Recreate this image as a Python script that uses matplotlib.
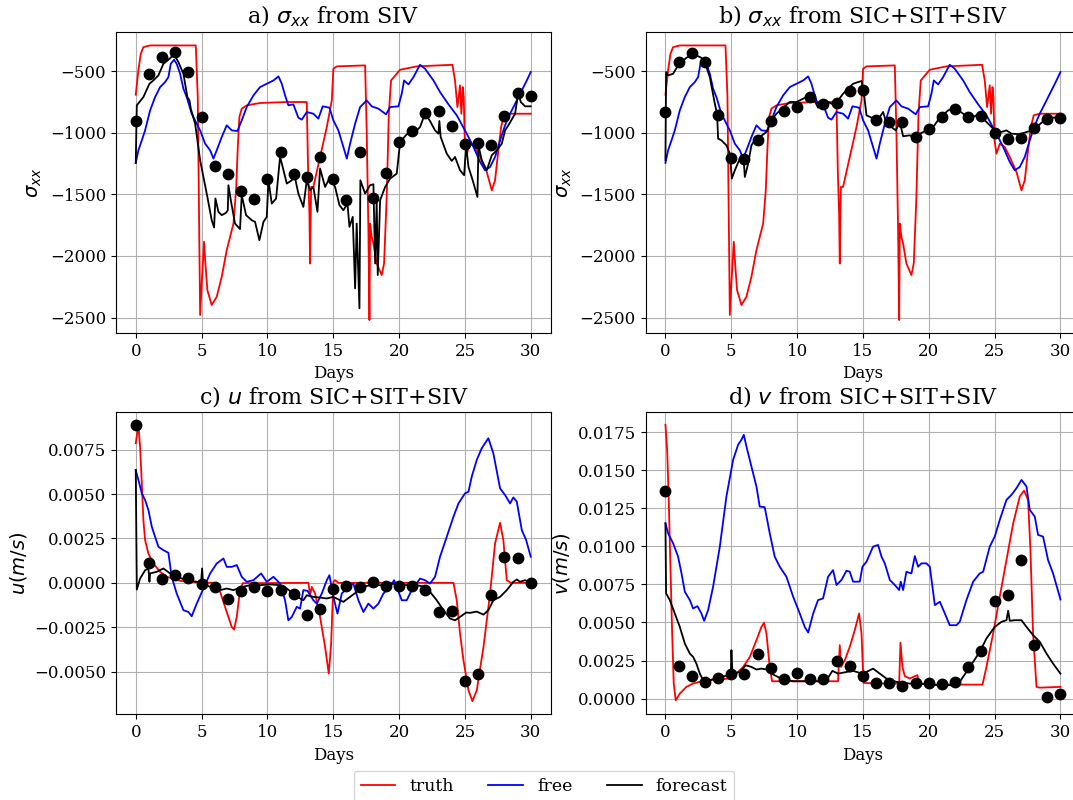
import numpy as np
import matplotlib
matplotlib.use("Agg")
import matplotlib.pyplot as plt
from matplotlib.lines import Line2D

plt.rcParams['font.family'] = ['DejaVu Serif']
plt.rcParams['font.size'] = 12

# ---------------- sigma_xx truth (shared by a and b) ----------------
truth_sig_t = [0, 0.2, 0.38, 0.58, 1.09, 4.56, 4.71, 4.89, 5.01, 5.19, 5.29, 5.44, 5.77, 6.15, 6.53, 6.91,
               7.42, 7.62, 7.75, 7.87, 8.05, 8.43, 9.44, 11.47, 12.99, 13.09, 13.19, 13.24, 13.32, 13.49,
               14.0, 14.51, 14.89, 15.01, 15.27, 17.42, 17.54, 17.67, 17.75, 17.8, 17.92, 18.05, 18.3,
               18.68, 18.86, 19.06, 19.22, 19.39, 20.08, 21.34, 24.05, 24.25, 24.43, 24.53, 24.63, 24.73,
               24.84, 24.91, 24.99, 25.14, 25.39, 25.77, 26.15, 26.66, 27.04, 27.29, 27.54, 27.75, 27.97,
               28.42, 30]
truth_sig_v = [-692, -495, -360, -306, -292, -292, -711, -2479, -2223, -1885, -2061, -2277, -2398, -2331,
               -2169, -1953, -1737, -1467, -1116, -873, -805, -778, -759, -751, -751, -1305, -1656, -2061,
               -1440, -1440, -1197, -954, -738, -481, -462, -454, -981, -1791, -2520, -1737, -1845, -1899,
               -2061, -2155, -2061, -1521, -846, -576, -489, -462, -449, -576, -792, -711, -616, -846,
               -630, -711, -1062, -1170, -1089, -1116, -1197, -1318, -1467, -1386, -1143, -954, -859,
               -846, -846]

free_sig_t = [0, 0.2, 0.46, 0.71, 1.09, 1.47, 1.85, 2.23, 2.48, 2.66, 2.91, 3.11, 3.37, 3.62, 3.87, 4.25,
              4.63, 4.89, 5.27, 5.65, 5.9, 6.15, 6.53, 6.91, 7.29, 7.72, 8.05, 8.43, 8.94, 9.44, 9.95,
              10.46, 10.84, 11.09, 11.34, 11.59, 11.97, 12.35, 12.61, 12.99, 13.49, 13.87, 14.2, 14.71,
              15.01, 15.39, 15.77, 16.03, 16.28, 16.66, 17.04, 17.54, 17.92, 18.43, 19.01, 19.32, 19.95,
              20.2, 20.38, 20.71, 21.09, 21.59, 21.97, 22.61, 23.11, 23.75, 24.38, 25.14, 25.65, 26.15,
              26.53, 26.91, 27.29, 27.67, 28.05, 28.43, 28.94, 29.32, 29.7, 30]
free_sig_v = [-1245, -1143, -1062, -981, -819, -711, -630, -589, -549, -441, -408, -441, -522, -643, -711,
              -846, -927, -981, -1089, -1143, -1210, -1143, -1035, -940, -981, -986, -900, -792, -697,
              -630, -603, -576, -543, -603, -697, -778, -770, -878, -894, -832, -846, -886, -786, -797,
              -900, -981, -1116, -1210, -1089, -927, -792, -738, -786, -805, -851, -792, -786, -684,
              -576, -608, -549, -449, -481, -576, -670, -770, -859, -1008, -1116, -1237, -1305, -1278,
              -1197, -1062, -940, -846, -738, -657, -576, -508]

# forecast, panel a (SIV)
fc_a_t = [0, 0.08, 0.58, 1.04, 1.34, 1.72, 2.1, 2.48, 2.91, 3.24, 3.62, 3.92, 4.08, 4.18, 4.51, 4.89, 5.14,
          5.44, 5.77, 5.95, 6.05, 6.28, 6.53, 6.86, 6.99, 7.04, 7.22, 7.54, 7.92, 8.05, 8.38, 8.81, 9.06,
          9.39, 9.7, 9.95, 10.08, 10.33, 10.66, 10.96, 11.16, 11.47, 11.85, 12.03, 12.35, 12.73, 12.99,
          13.24, 13.49, 13.8, 14.0, 14.38, 14.76, 15.14, 15.47, 15.77, 16.08, 16.23, 16.48, 16.66, 16.78,
          16.99, 17.06, 17.42, 17.8, 18.05, 18.18, 18.3, 18.38, 18.56, 18.94, 19.32, 19.82, 20.08, 20.58,
          21.09, 21.59, 21.97, 22.35, 22.73, 22.99, 23.06, 23.16, 23.62, 24.0, 24.25, 24.63, 24.94, 25.09,
          25.27, 25.59, 25.95, 26.03, 26.28, 26.66, 27.04, 27.42, 27.8, 28.05, 28.3, 28.81, 29.06, 29.24,
          29.57, 30]
fc_a_v = [-1245, -778, -711, -603, -576, -535, -441, -408, -365, -427, -522, -711, -738, -805, -927, -1224,
          -1359, -1521, -1710, -1769, -1534, -1642, -1669, -1650, -1629, -1426, -1548, -1737, -1782, -1507,
          -1669, -1710, -1723, -1872, -1723, -1683, -1386, -1575, -1534, -1197, -1278, -1413, -1386, -1332,
          -1494, -1602, -1386, -1467, -1440, -1642, -1291, -1440, -1359, -1440, -1588, -1629, -1575, -1764,
          -1683, -2263, -1737, -2425, -1386, -1494, -1426, -1418, -2061, -1548, -2155, -1548, -1440, -1372,
          -1332, -1075, -1013, -1008, -954, -846, -905, -981, -1008, -905, -1035, -1170, -1229, -1197,
          -1305, -1345, -1102, -1278, -1386, -1521, -1102, -1224, -1305, -1183, -1143, -1089, -981, -940,
          -846, -670, -751, -786, -786]

# forecast, panel b (SIC+SIT+SIV)
fc_b_t = [0, 0.05, 0.2, 0.58, 0.96, 1.59, 1.97, 2.35, 2.73, 2.99, 3.37, 3.75, 3.92, 4.0, 4.25, 4.63, 4.89,
          5.04, 5.27, 5.65, 5.95, 6.03, 6.28, 6.53, 6.78, 7.16, 7.67, 8.05, 8.43, 8.94, 9.44, 9.95, 10.46,
          10.96, 11.34, 11.59, 11.97, 12.35, 12.73, 13.11, 13.49, 13.87, 14.25, 14.63, 14.89, 15.06, 15.27,
          15.65, 16.03, 16.53, 16.78, 17.16, 17.49, 17.8, 18.05, 18.56, 18.94, 19.32, 19.82, 20.33, 20.84,
          21.47, 21.97, 22.61, 23.11, 23.62, 24.13, 24.63, 25.01, 25.52, 25.9, 26.28, 26.91, 27.42, 27.92,
          28.43, 28.94, 29.44, 30]
fc_b_v = [-1224, -508, -535, -522, -454, -392, -373, -373, -392, -427, -549, -765, -846, -1048, -1062, -1102,
          -1170, -1372, -1305, -1210, -1237, -1359, -1251, -1102, -1062, -1035, -994, -900, -846, -797, -751,
          -751, -724, -697, -743, -797, -778, -751, -770, -738, -684, -643, -603, -589, -581, -670, -859,
          -878, -913, -832, -921, -954, -981, -913, -1029, -1021, -1048, -1008, -981, -954, -878, -819,
          -797, -846, -886, -859, -886, -940, -981, -994, -981, -1008, -1013, -994, -981, -932, -883, -878,
          -873]

obs_days = list(range(31))
obs_a = [-905, -524, -387, -346, -511, -873, -1270, -1332, -1472, -1537, -1372, -1159, -1332, -1359, -1197,
         -1372, -1548, -1159, -1529, -1323, -1075, -989, -840, -824, -946, -1094, -1081, -1102, -867, -678,
         -705]
obs_b = [-832, -430, -351, -430, -859, -1202, -1210, -1062, -905, -827, -792, -711, -770, -759, -665, -651,
         -894, -913, -913, -1035, -973, -873, -808, -873, -865, -1000, -1048, -1040, -962, -886, -878]

# ---------------- u ----------------
truth_u_t = [0, 0.13, 0.23, 0.33, 0.46, 0.58, 0.71, 0.96, 1.34, 1.85, 2.35, 3.37, 4.89, 6.03, 6.41, 6.91,
             7.29, 7.47, 7.67, 7.92, 8.13, 13.11, 13.24, 13.37, 13.62, 14.0, 14.38, 14.66, 14.84, 15.01,
             15.14, 15.39, 24.13, 24.38, 24.63, 24.89, 25.27, 25.57, 25.9, 26.41, 26.91, 27.29, 27.67,
             27.92, 28.18, 28.48, 30]
truth_u_v = [0.00786, 0.00852, 0.00857, 0.00767, 0.0056, 0.00353, 0.00241, 0.00165, 0.00109, 0.00062,
             0.00034, 0.00011, 0.00002, 0.0, -0.00051, -0.00164, -0.00248, -0.00263, -0.00192, -0.00041,
             -0.00002, 0.0, -0.0007, -0.00023, -0.0006, -0.00192, -0.00361, -0.00511, -0.00342, 0.00006,
             0.00015, 0.0, 0.0, -0.00098, -0.00286, -0.00436, -0.00605, -0.00666, -0.00605, -0.00361,
             -0.0006, 0.00222, 0.00338, 0.00241, 0.00015, 0.0, 0.0]

free_u_t = [0, 0.2, 0.46, 0.71, 0.96, 1.22, 1.47, 1.72, 2.1, 2.48, 2.73, 3.11, 3.62, 4.0, 4.25, 4.63, 5.14,
            5.65, 6.15, 6.66, 6.91, 7.29, 7.67, 8.05, 8.43, 8.94, 9.52, 9.95, 10.46, 10.96, 11.34, 11.59,
            11.85, 12.23, 12.48, 12.73, 13.04, 13.49, 13.75, 14.13, 14.51, 14.71, 15.01, 15.32, 15.65, 16.15,
            16.53, 16.91, 17.29, 17.67, 18.05, 18.43, 18.81, 19.32, 19.62, 19.82, 20.2, 20.58, 20.96, 21.59,
            21.97, 22.35, 22.73, 23.11, 23.62, 24.13, 24.51, 25.01, 25.27, 25.52, 25.9, 26.28, 26.78, 27.16,
            27.67, 28.05, 28.43, 28.68, 28.94, 29.32, 29.65, 30]
free_u_v = [0.00635, 0.00579, 0.00504, 0.00466, 0.0041, 0.00316, 0.00259, 0.00203, 0.00184, 0.00169,
            0.00034, -0.0006, -0.00154, -0.00164, -0.00188, -0.00117, -0.00032, 0.00053, 0.00109, 0.00137,
            0.0009, 0.0009, 0.001, 0.00034, 0.00006, 0.00015, 0.00053, 0.00006, 0.00034, -0.00004, -0.00098,
            -0.00211, -0.00192, -0.00135, -0.00145, -0.00041, -0.00045, -0.00098, -0.00117, -0.0006, 0.00015,
            0.00043, -0.00079, -0.00173, -0.0006, -0.00023, -0.00004, -0.00098, -0.00164, -0.00117, -0.00145,
            -0.00117, -0.0006, -0.00023, 0.00015, -0.00023, -0.00098, -0.00098, -0.00041, 0.00024, 0.00015,
            -0.00004, 0.00034, 0.00147, 0.00259, 0.00372, 0.00447, 0.00504, 0.00513, 0.00598, 0.00692,
            0.00758, 0.00814, 0.00729, 0.00532, 0.00494, 0.00447, 0.00481, 0.00457, 0.00297, 0.00241, 0.00147]

fc_u_t = [0, 0.08, 0.33, 0.71, 0.96, 1.04, 1.09, 1.59, 2.1, 2.61, 3.11, 3.87, 4.63, 4.96, 5.04, 5.11, 5.65,
          6.41, 6.91, 7.42, 7.92, 8.68, 9.44, 10.2, 10.96, 11.47, 11.97, 12.48, 12.73, 12.99, 13.49, 14.0,
          14.51, 15.01, 15.52, 15.77, 16.28, 16.78, 17.29, 17.8, 18.81, 19.32, 19.82, 20.58, 21.34, 21.97,
          22.35, 22.86, 23.37, 23.87, 24.25, 24.63, 25.09, 25.39, 25.9, 26.41, 26.78, 27.16, 27.67, 28.18,
          28.68, 28.94, 29.19, 29.57, 30]
fc_u_v = [0.00635, -0.00038, 0.00024, 0.00071, 0.00081, 0.00006, 0.00053, 0.00062, 0.00081, 0.00053, 0.00034,
          0.00015, 0.00006, 0.0, 0.00081, -0.00004, -0.00023, -0.00041, -0.00032, -0.00041, -0.00026,
          -0.00013, -0.00013, -0.00009, -0.00013, -0.00032, -0.0006, -0.00088, -0.00098, -0.0007, -0.00079,
          -0.00083, -0.00088, -0.00079, -0.00098, -0.00107, -0.00079, -0.00051, -0.00023, -0.00013, -0.00013,
          -0.00004, -0.00008, -0.00013, -0.00013, -0.00023, -0.00051, -0.00098, -0.00154, -0.00201, -0.00211,
          -0.00192, -0.00167, -0.00169, -0.00162, -0.00179, -0.00154, -0.00098, -0.00079, -0.00041, 0.00006,
          0.00019, 0.00006, 0.00015, 0.0]

obs_u = [0.00886, 0.0011, 0.0002, 0.00043, 0.0003, -0.00004, -0.00024, -0.00092, -0.00045, -0.00023, -0.00047,
         -0.00038, -0.00064, -0.00182, -0.00149, -0.00032, -0.00017, -0.00023, 0.00002, -0.00017, -0.00017,
         -0.00017, -0.00043, -0.00165, -0.0016, -0.00555, -0.00511, -0.00066, 0.00143, 0.00139, 0.0]

# ---------------- v ----------------
truth_v_t = [0, 0.13, 0.25, 0.38, 0.51, 0.63, 0.78, 1.09, 1.59, 2.1, 2.86, 3.87, 4.89, 5.39, 5.9, 6.41, 6.91,
             7.29, 7.49, 7.67, 7.92, 8.1, 13.11, 13.24, 13.34, 13.62, 14.0, 14.38, 14.71, 14.89, 15.04, 16.28,
             17.75, 17.85, 18.0, 18.18, 18.56, 18.94, 19.14, 19.24, 20.58, 24.08, 24.38, 24.89, 25.39, 25.9,
             26.41, 26.91, 27.24, 27.54, 27.72, 27.92, 28.18, 28.43, 30]
truth_v_v = [0.01798, 0.01634, 0.01305, 0.00866, 0.00428, 0.00099, -0.00011, 0.00033, 0.00077, 0.00099,
             0.00116, 0.00125, 0.00132, 0.00164, 0.00208, 0.00274, 0.00384, 0.00471, 0.00498, 0.00428,
             0.00208, 0.00114, 0.00114, 0.00351, 0.00208, 0.00252, 0.0034, 0.0045, 0.00559, 0.00428, 0.00103,
             0.00099, 0.00099, 0.00368, 0.00208, 0.00147, 0.00132, 0.00147, 0.00154, 0.00099, 0.00092,
             0.00092, 0.00208, 0.00428, 0.00669, 0.0091, 0.01151, 0.01327, 0.01366, 0.01305, 0.00976,
             0.00428, 0.00077, 0.00072, 0.00077]

free_v_t = [0, 0.2, 0.58, 0.96, 1.22, 1.47, 1.85, 2.1, 2.43, 2.73, 2.94, 3.24, 3.62, 4.13, 4.63, 5.14, 5.52,
            5.77, 5.95, 6.15, 6.53, 6.91, 7.16, 7.54, 7.92, 8.3, 8.68, 9.19, 9.7, 10.2, 10.58, 10.84, 11.22,
            11.59, 11.97, 12.35, 12.73, 12.99, 13.37, 13.75, 14.0, 14.25, 14.76, 14.96, 15.27, 15.77, 16.15,
            16.41, 16.66, 17.04, 17.42, 17.75, 17.87, 18.05, 18.3, 18.68, 18.94, 19.19, 19.44, 19.82, 20.08,
            20.46, 20.84, 21.22, 21.59, 22.1, 22.35, 22.86, 23.37, 23.87, 24.13, 24.63, 25.01, 25.39, 25.9,
            26.28, 26.66, 27.04, 27.42, 27.67, 28.05, 28.3, 28.68, 29.06, 29.44, 30]
free_v_v = [0.01151, 0.01086, 0.0102, 0.00932, 0.00822, 0.00702, 0.00647, 0.00592, 0.00607, 0.00559, 0.00511,
            0.00581, 0.00735, 0.00998, 0.01327, 0.01568, 0.01667, 0.017, 0.01732, 0.01656, 0.01524, 0.01393,
            0.01261, 0.01257, 0.01086, 0.00932, 0.00866, 0.008, 0.00669, 0.00559, 0.00471, 0.00434, 0.00559,
            0.00647, 0.00658, 0.008, 0.00844, 0.00746, 0.00779, 0.0084, 0.00833, 0.00768, 0.00768, 0.00866,
            0.00899, 0.00998, 0.01009, 0.00932, 0.00888, 0.00779, 0.00746, 0.00713, 0.00768, 0.00713, 0.00833,
            0.00822, 0.00936, 0.00866, 0.00888, 0.00888, 0.00866, 0.00614, 0.00636, 0.00559, 0.00482, 0.00482,
            0.00504, 0.00647, 0.00768, 0.00822, 0.00833, 0.00998, 0.01064, 0.01173, 0.01305, 0.01338, 0.01382,
            0.01436, 0.01393, 0.01239, 0.01195, 0.01075, 0.01064, 0.0091, 0.00822, 0.00651]

fc_v_t = [0, 0.05, 0.33, 0.71, 1.09, 1.47, 1.85, 2.1, 2.35, 2.61, 2.86, 3.37, 4.13, 4.96, 5.01, 5.09, 5.65,
          6.1, 6.53, 6.91, 7.29, 7.67, 8.05, 8.68, 9.19, 9.7, 11.72, 12.23, 12.68, 13.11, 13.75, 14.25, 14.76,
          15.27, 15.77, 16.28, 16.78, 17.54, 18.56, 19.82, 20.84, 21.85, 22.35, 22.86, 23.37, 23.87, 24.38,
          25.01, 25.52, 25.9, 26.03, 26.15, 26.53, 27.04, 27.42, 27.92, 28.43, 28.94, 29.44, 30]
fc_v_v = [0.01151, 0.00691, 0.00647, 0.00559, 0.00471, 0.00362, 0.00296, 0.00274, 0.0023, 0.00164, 0.00121,
          0.00121, 0.00143, 0.00154, 0.00318, 0.00164, 0.00175, 0.00219, 0.00208, 0.00191, 0.00197, 0.00191,
          0.00164, 0.00136, 0.00125, 0.00114, 0.00114, 0.00121, 0.00182, 0.00164, 0.00175, 0.00182, 0.00169,
          0.00175, 0.00197, 0.00164, 0.00132, 0.0011, 0.00099, 0.00094, 0.00088, 0.00088, 0.0011, 0.00175,
          0.00241, 0.00307, 0.00395, 0.00471, 0.00504, 0.00515, 0.00577, 0.00511, 0.00515, 0.00515, 0.00471,
          0.00417, 0.00373, 0.00296, 0.0023, 0.00164]

obs_v = [0.0136, 0.00213, 0.00149, 0.0011, 0.00136, 0.0016, 0.00164, 0.0029, 0.002, 0.0013, 0.0017, 0.0013,
         0.0013, 0.0025, 0.00215, 0.0015, 0.001, 0.001, 0.0008, 0.001, 0.001, 0.00095, 0.0011, 0.0021, 0.0031,
         0.0064, 0.0068, 0.0091, 0.0035, 0.0001, 0.0003]

titles = [r"a) $\sigma_{xx}$ from SIV", r"b) $\sigma_{xx}$ from SIC+SIT+SIV",
          r"c) $u$ from SIC+SIT+SIV", r"d) $v$ from SIC+SIT+SIV"]
ylabels = [r"$\sigma_{xx}$", r"$\sigma_{xx}$", r"$u (m/s)$", r"$v (m/s)$"]

W, H = 1073, 800
fig = plt.figure(figsize=(W / 100, H / 100), dpi=100)

def px_axes(left, top, right, bottom):
    return fig.add_axes([left / W, 1 - bottom / H, (right - left) / W, (bottom - top) / H])

ax_a = px_axes(116, 32, 550.5, 333)
ax_b = px_axes(645.7, 32, 1080.2, 333)
ax_c = px_axes(116, 412.3, 550.5, 714.3)
ax_d = px_axes(645.7, 412.3, 1080.2, 714.3)

panels = [
    (ax_a, (truth_sig_t, truth_sig_v), (free_sig_t, free_sig_v), (fc_a_t, fc_a_v), obs_a, (-2625, -183)),
    (ax_b, (truth_sig_t, truth_sig_v), (free_sig_t, free_sig_v), (fc_b_t, fc_b_v), obs_b, (-2625, -183)),
    (ax_c, (truth_u_t, truth_u_v), (free_u_t, free_u_v), (fc_u_t, fc_u_v), obs_u, (-0.0074, 0.0096)),
    (ax_d, (truth_v_t, truth_v_v), (free_v_t, free_v_v), (fc_v_t, fc_v_v), obs_v, (-0.00103, 0.0188)),
]

lw = 1.3
for i, (ax, tr, fr, fc, ob, yl) in enumerate(panels):
    ax.plot(tr[0], tr[1], color='red', lw=lw)
    ax.plot(fr[0], fr[1], color='blue', lw=lw)
    ax.plot(fc[0], fc[1], color='black', lw=lw)
    ax.plot(obs_days, ob, 'o', color='black', ms=7.5, zorder=5)
    ax.set_xlim(-1.5, 31.5)
    ax.set_ylim(*yl)
    ax.set_xticks([0, 5, 10, 15, 20, 25, 30])
    ax.grid(True)
    ax.set_title(titles[i], fontsize=16)
    ax.set_xlabel("Days", fontsize=12)
    ax.set_ylabel(ylabels[i], fontsize=14)

ax_d.set_yticks([0.0, 0.0025, 0.005, 0.0075, 0.01, 0.0125, 0.015, 0.0175])
ax_c.set_yticks([-0.005, -0.0025, 0.0, 0.0025, 0.005, 0.0075])

handles = [Line2D([], [], color='red', lw=lw), Line2D([], [], color='blue', lw=lw),
           Line2D([], [], color='black', lw=lw)]
fig.legend(handles, ['truth', 'free', 'forecast'], loc='upper center',
           bbox_to_anchor=(544 / W, 1 - 771 / H), ncol=3, fontsize=12.5, borderaxespad=0)

fig.savefig("out.png", dpi=100)
